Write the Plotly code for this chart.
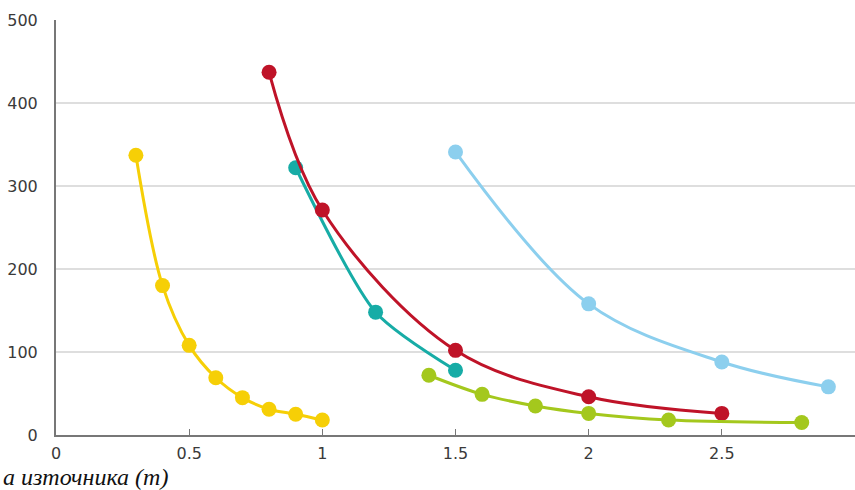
import plotly.graph_objects as go

# Distance (m) and measured values for each series
yellow_x = [0.3, 0.4, 0.5, 0.6, 0.7, 0.8, 0.9, 1.0]
yellow_y = [337, 180, 108, 69, 45, 31, 25, 18]

teal_x = [0.9, 1.2, 1.5]
teal_y = [322, 148, 78]

red_x = [0.8, 1.0, 1.5, 2.0, 2.5]
red_y = [437, 271, 102, 46, 26]

blue_x = [1.5, 2.0, 2.5, 2.9]
blue_y = [341, 158, 88, 58]

green_x = [1.4, 1.6, 1.8, 2.0, 2.3, 2.8]
green_y = [72, 49, 35, 26, 18, 15]

x_ticks = [0, 0.5, 1, 1.5, 2, 2.5, 3]
x_tick_text = ["0", "0.5", "1", "1.5", "2", "2.5", "3"]
y_ticks = [0, 100, 200, 300, 400, 500]

series = [
    (yellow_x, yellow_y, "#f6cf06", 1.0),
    (teal_x, teal_y, "#17aca6", 0.7),
    (red_x, red_y, "#bf1328", 1.0),
    (blue_x, blue_y, "#8ccfee", 1.0),
    (green_x, green_y, "#a4c81d", 1.0),
]

fig = go.Figure()
for xs, ys, color, smooth in series:
    fig.add_trace(go.Scatter(
        x=xs, y=ys, mode="lines+markers",
        line=dict(color=color, width=3, shape="spline", smoothing=smooth),
        marker=dict(color=color, size=15),
        showlegend=False, cliponaxis=False,
    ))

W, H = 855, 490
L, R, T, B = 56, 0, 20, 55

tick_font = dict(family="DejaVu Sans", size=16, color="#3a3a3a")

fig.update_layout(
    width=W, height=H,
    margin=dict(l=L, r=R, t=T, b=B),
    paper_bgcolor="white", plot_bgcolor="white",
    font=tick_font,
    xaxis=dict(
        range=[0, 3], tickvals=x_ticks, ticktext=x_tick_text,
        showgrid=False, zeroline=False,
        showline=True, linecolor="#777", linewidth=2,
        ticks="inside", ticklen=6, tickcolor="#777", tickwidth=1,
        ticklabelstandoff=3,
        tickfont=tick_font,
    ),
    yaxis=dict(
        range=[0, 500], tickvals=y_ticks,
        showgrid=True, gridcolor="#dedede", gridwidth=2,
        zeroline=False,
        showline=True, linecolor="#777", linewidth=2,
        ticks="", ticklabelstandoff=13,
        tickfont=tick_font,
    ),
    annotations=[dict(
        text="а източника (m)",
        xref="paper", yref="paper",
        x=(1 - L) / (W - L - R), y=(435 - 477) / (435 - T),
        xanchor="left", yanchor="middle", showarrow=False,
        font=dict(family="Liberation Serif", size=24, color="#111", style="italic"),
    )],
)

fig.write_html("out.html")
